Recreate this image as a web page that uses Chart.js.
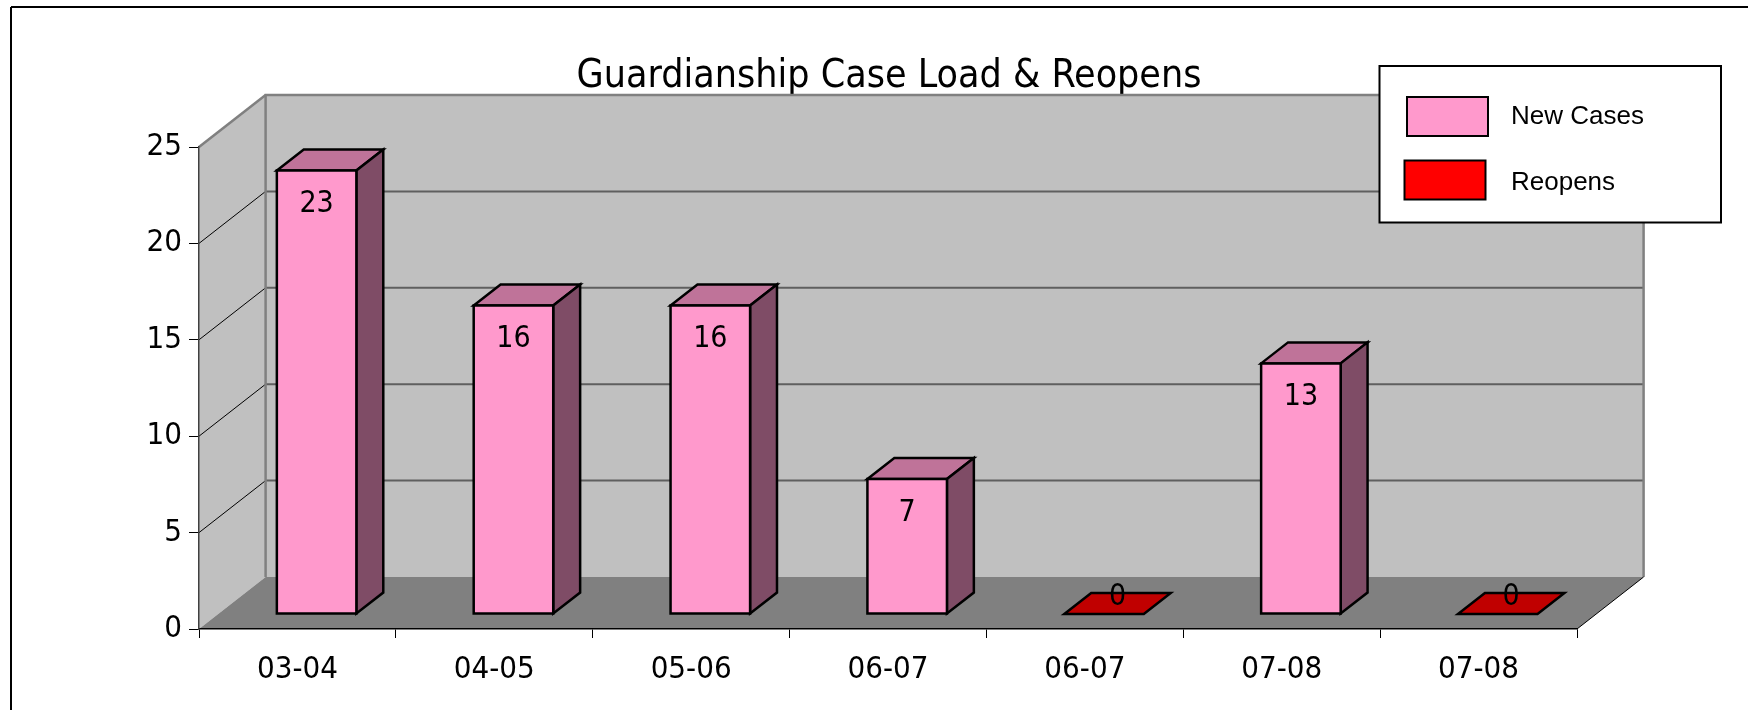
<!DOCTYPE html>
<html><head><meta charset="utf-8">
<script src="https://cdn.jsdelivr.net/npm/chart.js@4.4.1/dist/chart.umd.min.js"></script>
<style>html,body{margin:0;padding:0;background:#fff;} canvas{display:block;}</style>
</head><body>
<canvas id="c" width="1752" height="710"></canvas>
<script>
// ---- data ----
const TITLE = 'Guardianship Case Load & Reopens';
const categories = ['03-04', '04-05', '05-06', '06-07', '06-07', '07-08', '07-08'];
const newCases = [23, 16, 16, 7, null, 13, null];
const reopens = [null, null, null, null, 0, null, 0];
const seriesNames = ['New Cases', 'Reopens'];
const yMin = 0, yMax = 25, yStep = 5;

// ---- style ----
const FONT = '"DejaVu Sans Condensed", "DejaVu Sans", sans-serif';
const LEGEND_FONT = '"Liberation Sans", Arial, sans-serif';
const DX = 66.6, DY = -52;      // oblique depth of the 3D box
const F0 = 0.288, F1 = 0.692;   // bar front/back depth fractions
const COLORS = [
  {front: '#FF99CC', top: '#BF7399', side: '#7F4C66'},
  {front: '#FF0000', top: '#C00000', side: '#800000'}
];

function poly(ctx, pts, fill, stroke, lw) {
  ctx.beginPath();
  ctx.moveTo(pts[0][0], pts[0][1]);
  for (let i = 1; i < pts.length; i++) ctx.lineTo(pts[i][0], pts[i][1]);
  ctx.closePath();
  if (fill) { ctx.fillStyle = fill; ctx.fill(); }
  if (stroke) { ctx.strokeStyle = stroke; ctx.lineWidth = lw; ctx.stroke(); }
}
function line(ctx, x1, y1, x2, y2, color, lw) {
  ctx.beginPath(); ctx.moveTo(x1, y1); ctx.lineTo(x2, y2);
  ctx.strokeStyle = color; ctx.lineWidth = lw; ctx.stroke();
}

const box3d = {
  id: 'box3d',
  beforeDraw(chart) {
    const ctx = chart.ctx, ca = chart.chartArea, ys = chart.scales.y;
    const L = ca.left, R = ca.right, T = ca.top, B = ca.bottom;
    ctx.save();
    ctx.fillStyle = '#fff'; ctx.fillRect(0, 0, chart.width, chart.height);
    // outer frame
    line(ctx, 11, 7, 1748, 7, '#000', 2);
    line(ctx, 11, 7, 11, chart.height, '#000', 2);
    // title
    ctx.fillStyle = '#000';
    ctx.font = '39px ' + FONT;
    ctx.textAlign = 'center'; ctx.textBaseline = 'alphabetic';
    ctx.fillText(TITLE, 889, 86.5);
    // walls
    poly(ctx, [[L, B], [L, T], [L + DX, T + DY], [L + DX, B + DY]], '#C0C0C0');
    poly(ctx, [[L + DX, T + DY], [R + DX, T + DY], [R + DX, B + DY], [L + DX, B + DY]], '#C0C0C0');
    poly(ctx, [[L, B], [L + DX, B + DY], [R + DX, B + DY], [R, B]], '#808080');
    // gridlines
    ys.ticks.forEach(t => {
      if (t.value <= yMin || t.value >= yMax) return;
      const yp = ys.getPixelForValue(t.value);
      line(ctx, L, yp, L + DX, yp + DY, '#000', 1);
      line(ctx, L + DX, yp + DY, R + DX, yp + DY, '#5f5f5f', 2);
    });
    // wall edges
    line(ctx, L, T, L + DX, T + DY, '#808080', 2.5);
    line(ctx, L + DX - 1, T + DY, R + DX + 1.2, T + DY, '#808080', 2.5);
    line(ctx, R + DX, T + DY, R + DX, B + DY, '#808080', 2.5);
    line(ctx, L + DX, T + DY, L + DX, B + DY, '#808080', 2.5);
    line(ctx, R, B, R + DX, B + DY, '#000', 1);
    ctx.restore();
  },
  beforeDatasetsDraw(chart) {
    const ctx = chart.ctx;
    const fx = F0 * DX, fy = F0 * DY;
    const ddx = (F1 - F0) * DX, ddy = (F1 - F0) * DY;
    ctx.save();
    ctx.lineJoin = 'miter';
    chart.data.datasets.forEach((ds, di) => {
      const meta = chart.getDatasetMeta(di);
      const col = COLORS[di];
      meta.data.forEach((el, i) => {
        const v = ds.data[i];
        if (v === null || v === undefined) return;
        const x0 = el.x - el.width / 2 + fx, x1 = el.x + el.width / 2 + fx;
        const yt = el.y + fy, yb = el.base + fy;
        // top face
        poly(ctx, [[x0, yt], [x1, yt], [x1 + ddx, yt + ddy], [x0 + ddx, yt + ddy]], col.top, '#000', 2.5);
        if (yb - yt > 0.5) {
          // side face
          poly(ctx, [[x1, yt], [x1 + ddx, yt + ddy], [x1 + ddx, yb + ddy], [x1, yb]], col.side, '#000', 2.5);
          // front face
          poly(ctx, [[x0, yt], [x1, yt], [x1, yb], [x0, yb]], col.front, '#000', 2.5);
        }
        // value label
        ctx.fillStyle = '#000';
        ctx.font = '30px ' + FONT;
        ctx.textAlign = 'center'; ctx.textBaseline = 'middle';
        if (yb - yt > 0.5) {
          ctx.fillText(String(v), (x0 + x1) / 2, yt + 34);
        } else {
          ctx.fillText(String(v), (x0 + x1) / 2 + ddx / 2, yt + ddy / 2 - 6);
        }
      });
    });
    ctx.restore();
    return false;
  },
  afterDraw(chart) {
    const ctx = chart.ctx;
    ctx.save();
    // legend
    ctx.fillStyle = '#fff';
    ctx.fillRect(1379.5, 66, 341.5, 156.5);
    ctx.strokeStyle = '#000'; ctx.lineWidth = 2;
    ctx.strokeRect(1379.5, 66, 341.5, 156.5);
    const sw = [[1407, 97], [1404.5, 160.5]];
    const base = [124, 190];
    chart.data.datasets.forEach((ds, di) => {
      ctx.fillStyle = COLORS[di].front;
      ctx.fillRect(sw[di][0], sw[di][1], 81, 39);
      ctx.strokeStyle = '#000'; ctx.lineWidth = 2;
      ctx.strokeRect(sw[di][0], sw[di][1], 81, 39);
      ctx.fillStyle = '#000';
      ctx.font = '26px ' + LEGEND_FONT;
      ctx.textAlign = 'left'; ctx.textBaseline = 'alphabetic';
      ctx.fillText(ds.label, 1511, base[di]);
    });
    ctx.restore();
  }
};

new Chart(document.getElementById('c'), {
  type: 'bar',
  data: {
    labels: categories,
    datasets: [
      {label: seriesNames[0], data: newCases, backgroundColor: COLORS[0].front, grouped: false, barPercentage: 0.404, categoryPercentage: 1},
      {label: seriesNames[1], data: reopens, backgroundColor: COLORS[1].front, grouped: false, barPercentage: 0.404, categoryPercentage: 1}
    ]
  },
  options: {
    responsive: false,
    animation: false,
    devicePixelRatio: 1,
    layout: {padding: {top: 147, right: 175, bottom: 0, left: 0}},
    plugins: {legend: {display: false}, title: {display: false}, tooltip: {enabled: false}},
    scales: {
      x: {
        offset: true,
        grid: {display: true, drawOnChartArea: false, tickLength: 9, color: '#000', lineWidth: 1, offset: true},
        border: {display: true, color: '#000', width: 1.5},
        ticks: {color: '#000', font: {family: FONT, size: 31}, padding: 13, maxRotation: 0, autoSkip: false},
        afterFit(s) { s.height = 81; }
      },
      y: {
        min: yMin, max: yMax,
        grid: {display: true, drawOnChartArea: false, tickLength: 10, color: '#000', lineWidth: 1},
        border: {display: true, color: '#404040', width: 1.5},
        ticks: {stepSize: yStep, color: '#000', font: {family: FONT, size: 31}, padding: 7},
        afterFit(s) { s.width = 199; }
      }
    }
  },
  plugins: [box3d]
});
</script>
</body></html>
